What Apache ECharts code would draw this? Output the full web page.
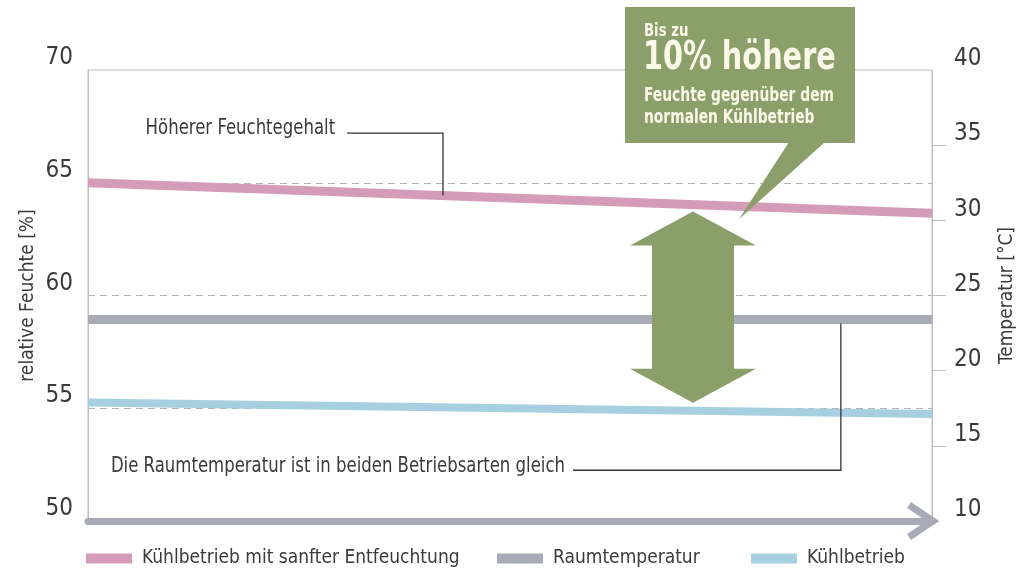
<!DOCTYPE html>
<html><head><meta charset="utf-8">
<script src="https://cdn.jsdelivr.net/npm/echarts@6/dist/echarts.min.js"></script>
<style>html,body{margin:0;padding:0;background:#fff}#c{width:1019px;height:575px}</style>
</head><body><div id="c"></div>
<script>
// ---- data ----
const xCats = ['Beginn', 'Ende'];
const seriesNames = ['Kühlbetrieb mit sanfter Entfeuchtung', 'Raumtemperatur', 'Kühlbetrieb'];
const softDehumidHumidity = [65.0, 63.65];   // relative Feuchte [%]
const roomTemperature = [23.4, 23.4];        // Temperatur [°C]
const normalCoolingHumidity = [55.25, 54.75]; // relative Feuchte [%]
const humidityTicks = [50, 55, 60, 65, 70];
const temperatureTicks = [10, 15, 20, 25, 30, 35, 40];

(function () {
const FONT = '"Liberation Sans Narrow", "DejaVu Sans Condensed", "Roboto Condensed", sans-serif';
const C_PINK = '#d59cba', C_GRAY = '#a9aab8', C_BLUE = '#a6d0e0', C_GREEN = '#8b9f6a';
const TXT = '#3a3a3a';
const GRID_C = '#bdbdbd', DASH_C = '#b3b3b3', NONE = 'rgba(0,0,0,0)';

const chart = echarts.init(document.getElementById('c'), null, {renderer: 'canvas'});
const legendCommon = {
  orient: 'horizontal', icon: 'rect', itemWidth: 46, itemHeight: 10, itemGap: 10,
  top: 544, selectedMode: false,
  textStyle: {fontFamily: FONT, fontSize: 19, color: TXT, padding: [0, 0, 0, 5]}
};
// dashed guide lines only between the frame edges
const splitColors = humidityTicks.map((v, i) => (i === 0 || i === humidityTicks.length - 1) ? NONE : DASH_C);
const option = {
  animation: false,
  backgroundColor: '#fff',
  grid: {left: 88, right: 87, top: 70, bottom: 54, outerBoundsMode: 'none', containLabel: false,
         show: true, borderColor: GRID_C, borderWidth: 1, backgroundColor: 'transparent'},
  legend: [
    Object.assign({left: 81, data: [seriesNames[0]]}, legendCommon),
    Object.assign({left: 492, data: [seriesNames[1]]}, legendCommon),
    Object.assign({left: 746, data: [seriesNames[2]]}, legendCommon)
  ],
  xAxis: {
    type: 'category', data: xCats, boundaryGap: false,
    axisLine: {show: true, lineStyle: {color: C_GRAY, width: 7}},
    axisTick: {show: false}, axisLabel: {show: false}, splitLine: {show: false}
  },
  yAxis: [
    {
      type: 'value', position: 'left',
      min: humidityTicks[0], max: humidityTicks[humidityTicks.length - 1],
      interval: humidityTicks[1] - humidityTicks[0],
      name: 'relative Feuchte [%]', nameLocation: 'middle', nameRotate: 90, nameGap: 50, nameMoveOverlap: false,
      nameTextStyle: {fontFamily: FONT, fontSize: 19, color: TXT},
      axisLine: {show: true, lineStyle: {color: GRID_C, width: 1}},
      axisTick: {show: false},
      axisLabel: {fontFamily: FONT, fontSize: 24, color: TXT, margin: 15, verticalAlign: 'bottom', lineHeight: 24},
      splitLine: {show: true, lineStyle: {color: splitColors, type: [7, 5], width: 1}}
    },
    {
      type: 'value', position: 'right',
      min: temperatureTicks[0], max: temperatureTicks[temperatureTicks.length - 1],
      interval: temperatureTicks[1] - temperatureTicks[0],
      name: 'Temperatur [°C]', nameLocation: 'middle', nameRotate: 90, nameGap: 66,
      nameTextStyle: {fontFamily: FONT, fontSize: 19, color: TXT},
      axisLine: {show: true, lineStyle: {color: GRID_C, width: 1}},
      axisTick: {show: true, inside: false, length: 14, customValues: temperatureTicks.slice(1, -1), lineStyle: {color: GRID_C}},
      axisLabel: {fontFamily: FONT, fontSize: 24, color: TXT, margin: 22, verticalAlign: 'bottom', lineHeight: 22},
      splitLine: {show: false}
    }
  ],
  series: [
    {name: seriesNames[0], type: 'line', yAxisIndex: 0, data: softDehumidHumidity, symbol: 'none',
     itemStyle: {color: C_PINK}, lineStyle: {color: C_PINK, width: 9, cap: 'butt'}, z: 3},
    {name: seriesNames[1], type: 'line', yAxisIndex: 1, data: roomTemperature, symbol: 'none',
     itemStyle: {color: C_GRAY}, lineStyle: {color: C_GRAY, width: 9, cap: 'butt'}, z: 3},
    {name: seriesNames[2], type: 'line', yAxisIndex: 0, data: normalCoolingHumidity, symbol: 'none',
     itemStyle: {color: C_BLUE}, lineStyle: {color: C_BLUE, width: 8, cap: 'butt'}, z: 3}
  ]
};
chart.setOption(option);

// ---- annotations anchored through the chart's own scales ----
const x0 = chart.convertToPixel({xAxisIndex: 0}, 0);
const x1 = chart.convertToPixel({xAxisIndex: 0}, 1);
const X = f => x0 + f * (x1 - x0);
const Yh = v => chart.convertToPixel({yAxisIndex: 0}, v);
const Yt = v => chart.convertToPixel({yAxisIndex: 1}, v);
const lerp = (arr, f) => arr[0] + f * (arr[1] - arr[0]);
const pinkAt = f => Yh(lerp(softDehumidHumidity, f));
const blueAt = f => Yh(lerp(normalCoolingHumidity, f));
const T = (text, x, y, size, bold, sx, align, fill, z) => ({
  type: 'text', z: z || 11, x: x, y: y, scaleX: sx,
  style: {text: text, x: 0, y: 0, align: align || 'left', verticalAlign: 'middle',
          font: (bold ? 'bold ' : '') + size + 'px ' + FONT, fill: fill}
});

const g = [];
// leader 1
const l1y = Yh(67.2), l1a = X(0.307), l1b = X(0.4206);
g.push({type: 'polyline', z: 10, shape: {points: [[l1a, l1y], [l1b, l1y], [l1b, pinkAt(0.4206)]]},
  style: {stroke: '#333', lineWidth: 1.3, fill: null}});
g.push(T('Höherer Feuchtegehalt', l1a - 12, l1y - 5, 22, false, 0.835, 'right', TXT));
// leader 2
const l2y = Yh(52.25), l2a = X(0.5746), l2b = X(0.892);
g.push({type: 'polyline', z: 10, shape: {points: [[l2a, l2y], [l2b, l2y], [l2b, Yt(roomTemperature[0]) + 4]]},
  style: {stroke: '#333', lineWidth: 1.3, fill: null}});
g.push(T('Die Raumtemperatur ist in beiden Betriebsarten gleich', l2a - 8, l2y - 4, 22, false, 0.835, 'right', TXT));
// double arrow
const fa = 0.7168, cx = X(fa), aTop = pinkAt(fa) + 7, aBot = blueAt(fa) - 8, hh = 63, sh = 41, hl = 34;
g.push({type: 'polygon', z: 10, shape: {points: [
  [cx, aTop], [cx + hh, aTop + hl], [cx + sh, aTop + hl], [cx + sh, aBot - hl], [cx + hh, aBot - hl], [cx, aBot],
  [cx - hh, aBot - hl], [cx - sh, aBot - hl], [cx - sh, aTop + hl], [cx - hh, aTop + hl]]},
  style: {fill: C_GREEN}});
// callout box
g.push({type: 'rect', z: 10, shape: {x: 625, y: 7, width: 230, height: 136}, style: {fill: C_GREEN}});
const ft = 0.7713;
g.push({type: 'polygon', z: 10, shape: {points: [[789, 142], [825, 142], [X(ft), pinkAt(ft) + 13]]}, style: {fill: C_GREEN}});
const WT = '#fbf8ea';
g.push(T('Bis zu', 644, 31, 18, true, 0.82, 'left', WT));
g.push(T('10% höhere', 643, 59, 39, true, 0.82, 'left', WT));
g.push(T('Feuchte gegenüber dem', 644, 96, 19, true, 0.81, 'left', WT));
g.push(T('normalen Kühlbetrieb', 644, 118, 19, true, 0.81, 'left', WT));
// axis arrow head
const yb = Yh(humidityTicks[0]);
g.push({type: 'polyline', z: 10, shape: {points: [[x1 - 23, yb - 16], [x1 + 1, yb], [x1 - 23, yb + 16]]},
  style: {stroke: C_GRAY, lineWidth: 7, fill: null, lineJoin: 'miter'}});

chart.setOption({graphic: g});
})();
</script>
</body></html>
